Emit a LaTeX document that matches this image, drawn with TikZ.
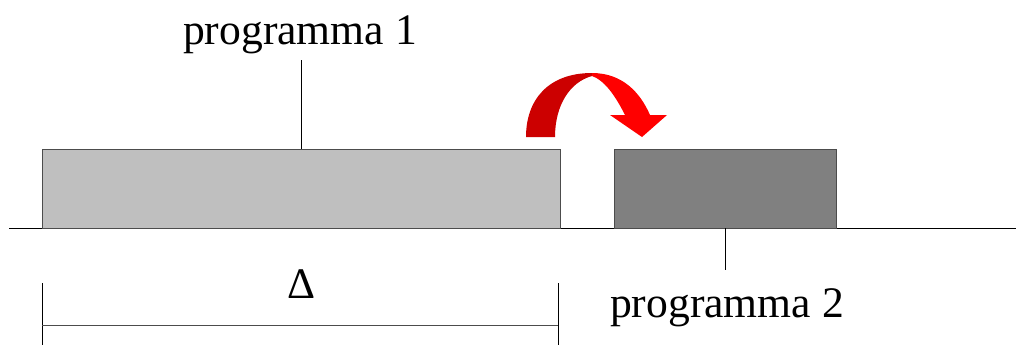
\documentclass[tikz,border=0pt]{standalone}
\usepackage{fontspec}
\setmainfont{Liberation Serif}
\begin{document}
\begin{tikzpicture}[x=0.025cm,y=-0.025cm,
  lbl/.style={font=\fontsize{31}{36}\selectfont,inner sep=0pt,anchor=base},
  bar/.style={draw=black!70,line width=0.6pt,inner sep=0pt,minimum height=1.975cm}]
\useasboundingbox (0,0) rectangle (1016,345);
% time axis
\coordinate (axl) at (9,228);
\coordinate (axr) at (1016,228);
\draw[line width=0.6pt] (axl) -- (axr);
% the two programs
\node[bar,fill=black!25,minimum width=12.95cm] (p1) at (301,188.5) {};
\node[bar,fill=black!50,minimum width=5.55cm] (p2) at (725,188.5) {};
\draw[black!70,line width=0.6pt] (p1.south west) -- (p1.south east);
\draw[black!70,line width=0.6pt] (p2.south west) -- (p2.south east);
% labels
\node[lbl] (l1) at (300,44) {programma 1};
\node[lbl] (l2) at (727,317) {programma 2};
\coordinate (t1) at (301,60);
\coordinate (t2) at (p2.south |- 0,270);
\draw[line width=0.5pt] (p1.north) -- (t1);
\draw[line width=0.5pt] (p2.south) -- (t2);
% interval
\coordinate (da) at (42,283);
\coordinate (db) at (558,283);
\draw[line width=0.6pt] (da) -- (42,345);
\draw[line width=0.6pt] (db) -- (558,345);
\draw[black!70,line width=0.6pt] (42,325) -- (558,325);
\node[lbl] (dl) at (302,298) {Δ};
% jump arrow
\fill[red!80!black] (526,137) .. controls (526,100) and (548,73) .. (592,73)
  -- (592,76) .. controls (570,82) and (555,105) .. (555,137) -- cycle;
\fill[red] (592,73) .. controls (622,73) and (640,92) .. (650,115)
  -- (667,115) -- (642,137) -- (610,115) -- (625,115)
  .. controls (615,95) and (604,80) .. (592,76) -- cycle;
\end{tikzpicture}
\end{document}
